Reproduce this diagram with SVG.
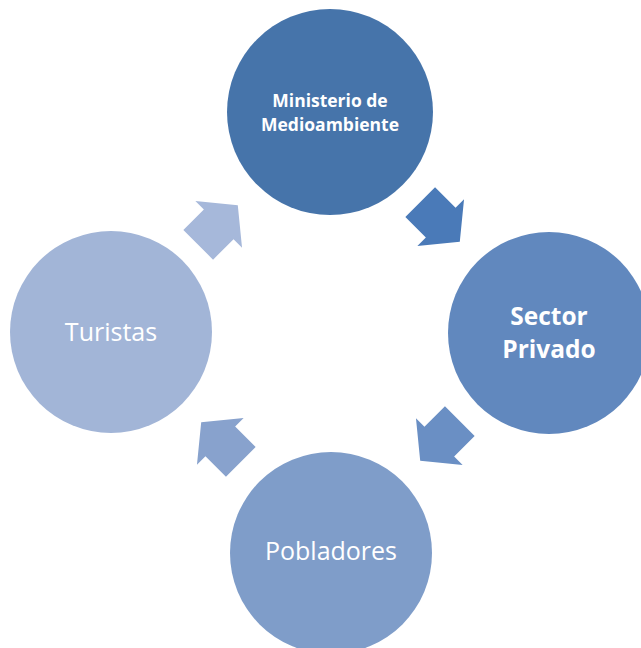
<svg xmlns="http://www.w3.org/2000/svg" width="641" height="648" viewBox="0 0 641 648">
<defs>
<style>
.lbl{fill:#ffffff;font-family:"Open Sans","Liberation Sans",sans-serif;text-anchor:middle}
.b{font-weight:bold}
</style>
<polygon id="arr" points="-28,-21 1,-21 1,-33 28,0 1,33 1,21 -28,21"/>
</defs>
<rect width="641" height="648" fill="#ffffff"/>
<g id="connectors">
<use href="#arr" transform="translate(440,222) rotate(45)" fill="#4a7ab8"/>
<use href="#arr" transform="translate(440,441) rotate(135)" fill="#6a8fc4"/>
<use href="#arr" transform="translate(221,442) rotate(225)" fill="#88a2cd"/>
<use href="#arr" transform="translate(218,225) rotate(315)" fill="#a6b8da"/>
</g>
<g id="ministerio">
<circle cx="330" cy="112" r="103" fill="#4674aa"/>
<text class="lbl b" x="330" y="107" font-size="17.5">Ministerio de</text>
<text class="lbl b" x="330" y="131" font-size="17.5">Medioambiente</text>
</g>
<g id="sector">
<circle cx="549" cy="333" r="101" fill="#6188be"/>
<text class="lbl b" x="549" y="325" font-size="24.5">Sector</text>
<text class="lbl b" x="549" y="358" font-size="24.5">Privado</text>
</g>
<g id="pobladores">
<circle cx="331" cy="553" r="101" fill="#7f9dc9"/>
<text class="lbl" x="331" y="560" font-size="25">Pobladores</text>
</g>
<g id="turistas">
<circle cx="111" cy="332" r="101" fill="#a2b5d7"/>
<text class="lbl" x="111" y="341" font-size="25">Turistas</text>
</g>
</svg>
